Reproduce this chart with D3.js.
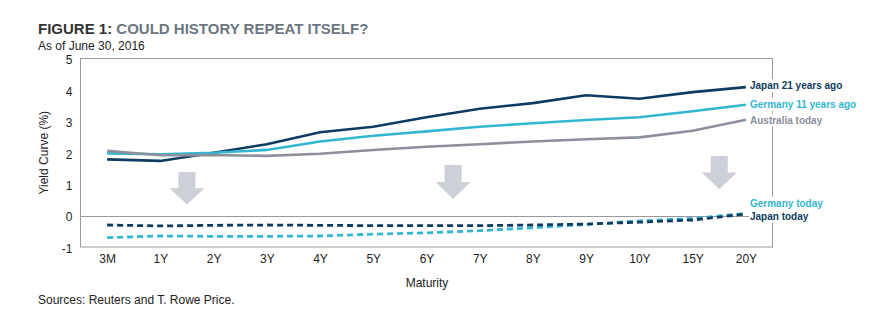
<!DOCTYPE html>
<html>
<head>
<meta charset="utf-8">
<script src="https://cdn.jsdelivr.net/npm/d3@7"></script>
<style>
  body { margin: 0; background: #fff; }
  svg { font-family: "Liberation Sans", Arial, sans-serif; }
</style>
</head>
<body>
<svg id="chart" width="878" height="331"></svg>
<script>
var maturities = ['3M', '1Y', '2Y', '3Y', '4Y', '5Y', '6Y', '7Y', '8Y', '9Y', '10Y', '15Y', '20Y'];
var yTicks = [-1, 0, 1, 2, 3, 4, 5];

var japan21  = [1.79, 1.74, 2.00, 2.27, 2.65, 2.83, 3.13, 3.40, 3.58, 3.83, 3.72, 3.93, 4.09];
var germany11 = [1.98, 1.95, 2.00, 2.09, 2.36, 2.54, 2.68, 2.83, 2.94, 3.04, 3.13, 3.32, 3.53];
var australia = [2.06, 1.92, 1.93, 1.90, 1.97, 2.09, 2.19, 2.27, 2.36, 2.43, 2.49, 2.70, 3.05];
var japanToday = [-0.30, -0.33, -0.31, -0.30, -0.31, -0.32, -0.32, -0.32, -0.30, -0.27, -0.21, -0.14, 0.05];
var germanyToday = [-0.70, -0.65, -0.66, -0.66, -0.65, -0.59, -0.55, -0.48, -0.39, -0.28, -0.17, -0.09, 0.07];

// arrows: [left category, right category, top value, tip value]
var arrows = [['1Y', '2Y', 1.39, 0.35], ['6Y', '7Y', 1.61, 0.53], ['15Y', '20Y', 1.90, 0.84]];

var navy = '#0f3b61', cyan = '#33b6d1', grey = '#8b909a';

var series = [
  { name: 'Japan 21 years ago', values: japan21, color: navy, dash: null, ly: 85.7 },
  { name: 'Germany 11 years ago', values: germany11, color: cyan, dash: null, ly: 104.3 },
  { name: 'Australia today', values: australia, color: grey, dash: null, ly: 120 },
  { name: 'Germany today', values: germanyToday, color: cyan, dash: '6,4', ly: 203.3 },
  { name: 'Japan today', values: japanToday, color: navy, dash: '6,4', ly: 216 }
];

var svg = d3.select('#chart');
var plotL = 80.5, plotR = 772.5, plotT = 58.5, plotB = 247;

var x_ = d3.scalePoint().domain(maturities).range([plotL, plotR]).padding(0.5);
var y_ = d3.scaleLinear().domain([-1, 5]).range([plotB, plotT]);

// title
var title = svg.append('text').attr('x', 38).attr('y', 34)
  .style('font-size', '15px').style('font-weight', 'bold');
title.append('tspan').attr('fill', '#333').text('FIGURE 1: ');
title.append('tspan').attr('fill', '#6c7681').text('COULD HISTORY REPEAT ITSELF?');
svg.append('text').attr('x', 38).attr('y', 50).style('font-size', '12px')
  .attr('fill', '#222').text('As of June 30, 2016');

// box
svg.append('rect').attr('x', plotL).attr('y', plotT)
  .attr('width', plotR - plotL).attr('height', plotB - plotT)
  .attr('fill', 'none').attr('stroke', '#9a9a9a').attr('stroke-width', 1);

svg.append('line').attr('x1', plotL).attr('x2', plotR)
  .attr('y1', Math.round(y_(0)) + 0.5).attr('y2', Math.round(y_(0)) + 0.5)
  .attr('stroke', '#9a9a9a');

// axes
var yAxis = d3.axisLeft(y_).tickValues(yTicks).tickSize(0).tickPadding(8)
  .tickFormat(function(d) { return String(d); });
var gy = svg.append('g').attr('transform', 'translate(' + plotL + ',0)').call(yAxis);
gy.select('.domain').remove();
gy.selectAll('text').style('font-size', '12px').attr('fill', '#222').attr('dy', '0.45em');

var xAxis = d3.axisBottom(x_).tickSize(0).tickPadding(7);
var gx = svg.append('g').attr('transform', 'translate(0,' + plotB + ')').call(xAxis);
gx.select('.domain').remove();
gx.selectAll('text').style('font-size', '12px').attr('fill', '#222');

svg.append('text').attr('transform', 'translate(48,' + ((plotT + plotB) / 2) + ') rotate(-90)')
  .attr('text-anchor', 'middle').style('font-size', '12px').attr('fill', '#222')
  .text('Yield Curve (%)');
svg.append('text').attr('x', 427).attr('y', 287).attr('text-anchor', 'middle')
  .style('font-size', '12px').attr('fill', '#222').text('Maturity');
svg.append('text').attr('x', 38).attr('y', 304)
  .style('font-size', '12px').attr('fill', '#222').text('Sources: Reuters and T. Rowe Price.');

// arrows
arrows.forEach(function(a) {
  var cx = (x_(a[0]) + x_(a[1])) / 2;
  var y0 = y_(a[2]), y1 = y_(a[3]);
  var headH = (y1 - y0) * 0.5;
  var pts = [[cx - 8.5, y0], [cx + 8.5, y0], [cx + 8.5, y1 - headH], [cx + 17.5, y1 - headH],
             [cx, y1], [cx - 17.5, y1 - headH], [cx - 8.5, y1 - headH]];
  svg.append('path').attr('d', d3.line()(pts) + 'Z').attr('fill', '#cdd0d6');
});

// lines
var line = d3.line()
  .x(function(d, i) { return x_(maturities[i]); })
  .y(function(d) { return y_(d); });

series.forEach(function(s) {
  svg.append('path').datum(s.values)
    .attr('d', line)
    .attr('fill', 'none')
    .attr('stroke', s.color)
    .attr('stroke-width', s.dash ? 2.8 : 2.6)
    .attr('stroke-dasharray', s.dash);
});

// labels with white background covering the box edge
series.forEach(function(s) {
  var t = svg.append('text').attr('x', 750).attr('y', s.ly).attr('dy', '0.35em')
    .style('font-size', '10px').style('font-weight', 'bold')
    .attr('fill', s.color).text(s.name);
  var bb = t.node().getBBox();
  svg.insert('rect', function() { return t.node(); })
    .attr('x', bb.x - 1).attr('y', bb.y - 1)
    .attr('width', bb.width + 2).attr('height', bb.height + 2).attr('fill', '#fff');
});
</script>
</body>
</html>
